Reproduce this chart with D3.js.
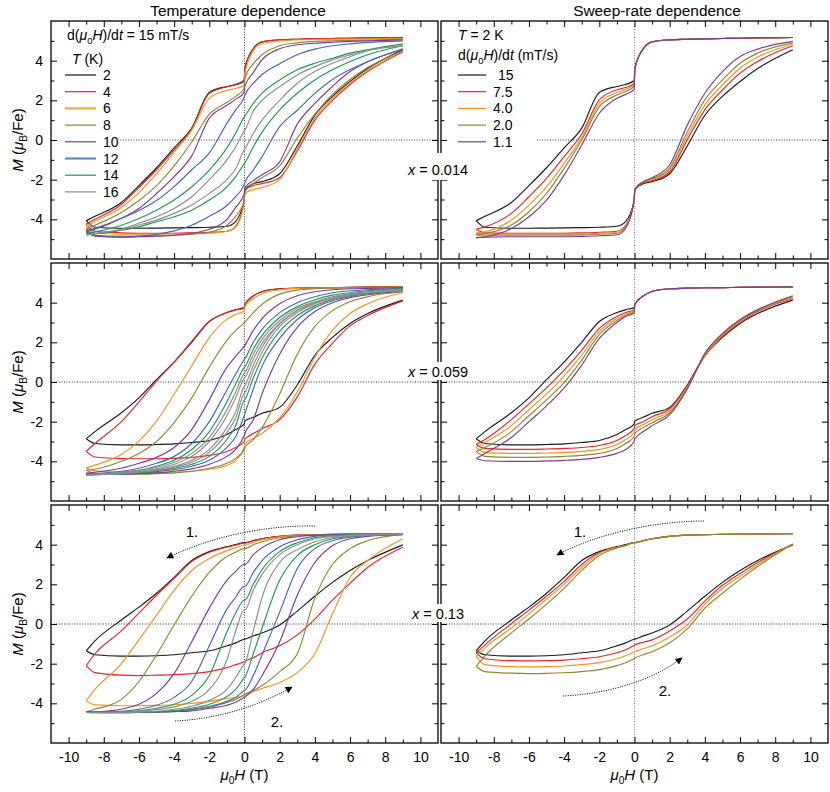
<!DOCTYPE html>
<html lang="en">
<head>
<meta charset="UTF-8">
<title>Hysteresis loops</title>
<script src="https://d3js.org/d3.v7.min.js"></script>
<style>
  body { margin: 0; background: #fff; }
  svg { display: block; font-family: "Liberation Sans", Arial, Helvetica, sans-serif; }
</style>
</head>
<body>
<svg id="chart" width="830" height="792"></svg>
<script>
// field values (T) at which every branch is sampled; -0.02/+0.02 carry the step at zero field
const hGrid = [-9, -8.5, -7, -6, -5, -4, -3, -2, -1, -0.5, -0.02, 0.02, 0.5, 1, 2, 3, 4, 5, 6, 7, 9];

const xTicks = [-10, -8, -6, -4, -2, 0, 2, 4, 6, 8, 10];
const xMinor = [-9, -7, -5, -3, -1, 1, 3, 5, 7, 9];
const yTicks = [-4, -2, 0, 2, 4];
const yMinor = [-5, -3, -1, 1, 3, 5];

const tempLabels = ["2", "4", "6", "8", "10", "12", "14", "16"];
const rateLabels = ["15", "7.5", "4.0", "2.0", "1.1"];
const tempColors = ["#1a1a1a", "#e8252b", "#f7931e", "#8a8a34", "#7e3a94", "#4565b6", "#1f9a4c", "#8c8c8c"];
const rateColors = tempColors.slice(0, 5);
const compLabels = ["0.014", "0.059", "0.13"];

// x = 0.014, temperature series (descending / ascending branch)
const dnT014 = [
  [-4.07,-3.85,-3.15,-2.3,-1.4,-0.4,0.6,2.4,2.7,2.8,3.0,3.6,4.6,4.95,5.05,5.08,5.1,5.12,5.13,5.15,5.17],
  [-4.24,-4.0,-3.25,-2.4,-1.5,-0.5,0.55,2.35,2.68,2.78,2.95,3.6,4.6,4.95,5.05,5.08,5.1,5.12,5.13,5.15,5.17],
  [-4.35,-4.1,-3.4,-2.65,-1.7,-0.6,0.5,2.1,2.5,2.6,2.75,3.3,4.5,4.85,5.0,5.05,5.07,5.08,5.09,5.1,5.12],
  [-4.5,-4.3,-3.65,-3.05,-2.3,-1.3,-0.1,1.3,1.9,2.2,2.6,3.1,3.85,4.3,4.75,4.9,4.97,5.0,5.02,5.04,5.08],
  [-4.63,-4.5,-3.95,-3.45,-2.7,-1.85,-0.8,1.1,1.75,2.05,2.4,2.7,3.4,4.05,4.6,4.8,4.88,4.93,4.97,5.0,5.05],
  [-4.55,-4.45,-3.95,-3.55,-3.05,-2.35,-1.5,-0.65,0.84,1.52,2.15,2.25,2.85,3.3,3.85,4.3,4.58,4.75,4.85,4.92,5.0],
  [-4.71,-4.63,-4.3,-3.96,-3.54,-3.03,-2.36,-1.52,-0.4,0.34,1.15,1.2,1.85,2.36,3.03,3.54,3.87,4.12,4.38,4.55,4.85],
  [-4.8,-4.71,-4.5,-4.2,-3.87,-3.45,-2.86,-2.0,-1.0,-0.34,0.45,0.5,1.45,2.0,2.69,3.28,3.7,4.04,4.29,4.51,4.75]
];
const upT014 = [
  [-4.07,-4.4,-4.45,-4.45,-4.44,-4.43,-4.42,-4.4,-4.35,-4.1,-3.05,-2.5,-2.2,-2.1,-1.7,-0.3,1.25,2.2,2.95,3.6,4.55],
  [-4.24,-4.6,-4.68,-4.7,-4.7,-4.7,-4.68,-4.65,-4.6,-4.35,-3.1,-2.55,-2.3,-2.2,-1.9,-0.55,1.0,2.0,2.8,3.45,4.45],
  [-4.35,-4.7,-4.75,-4.75,-4.75,-4.74,-4.72,-4.7,-4.6,-4.4,-3.2,-2.7,-2.5,-2.4,-2.0,-0.45,1.1,2.1,2.9,3.5,4.5],
  [-4.5,-4.8,-4.85,-4.85,-4.83,-4.8,-4.75,-4.65,-4.3,-3.85,-3.1,-2.6,-2.2,-1.9,-1.3,0.1,1.3,2.3,3.05,3.65,4.5],
  [-4.63,-4.85,-4.9,-4.88,-4.85,-4.8,-4.7,-4.5,-4.0,-3.4,-2.7,-2.4,-2.05,-1.75,-1.1,0.8,1.85,2.7,3.45,3.95,4.55],
  [-4.55,-4.8,-4.9,-4.85,-4.75,-4.58,-4.3,-3.85,-3.3,-2.85,-2.25,-2.15,-1.52,-0.84,0.67,1.5,2.35,3.05,3.55,3.95,4.6],
  [-4.71,-4.72,-4.55,-4.38,-4.12,-3.87,-3.54,-3.03,-2.36,-1.85,-1.2,-1.15,-0.34,0.4,1.52,2.36,3.03,3.54,3.96,4.3,4.75],
  [-4.8,-4.72,-4.51,-4.29,-4.04,-3.7,-3.28,-2.69,-2.0,-1.45,-0.5,-0.45,0.34,1.0,2.0,2.86,3.45,3.87,4.2,4.5,4.75]
];

// x = 0.014, sweep-rate series (15 mT/s is the same run as 2 K above)
const dnR014 = [
  dnT014[0],
  [-4.5,-4.38,-3.7,-2.86,-1.94,-0.84,0.3,2.02,2.53,2.65,2.85,3.6,4.6,4.95,5.05,5.08,5.1,5.12,5.13,5.15,5.17],
  [-4.68,-4.63,-4.04,-3.28,-2.36,-1.18,0.12,1.85,2.39,2.55,2.78,3.6,4.6,4.95,5.05,5.08,5.1,5.12,5.13,5.15,5.17],
  [-4.78,-4.71,-4.29,-3.62,-2.69,-1.43,0.0,1.68,2.27,2.45,2.7,3.6,4.6,4.95,5.05,5.08,5.1,5.12,5.13,5.15,5.17],
  [-4.92,-4.88,-4.46,-3.87,-3.03,-1.77,-0.25,1.35,2.1,2.3,2.55,3.6,4.6,4.95,5.05,5.08,5.1,5.12,5.13,5.15,5.17]
];
const upR014 = [
  upT014[0],
  [-4.5,-4.68,-4.7,-4.7,-4.7,-4.7,-4.68,-4.65,-4.6,-4.3,-3.05,-2.5,-2.15,-2.05,-1.6,0.02,1.52,2.52,3.37,3.96,4.75],
  [-4.68,-4.74,-4.75,-4.75,-4.75,-4.75,-4.73,-4.7,-4.65,-4.35,-3.05,-2.5,-2.13,-2.0,-1.5,0.2,1.77,2.78,3.62,4.18,4.83],
  [-4.78,-4.8,-4.8,-4.8,-4.8,-4.8,-4.78,-4.75,-4.7,-4.4,-3.05,-2.5,-2.1,-1.95,-1.4,0.4,2.02,3.03,3.87,4.38,4.9],
  [-4.92,-4.9,-4.88,-4.88,-4.88,-4.88,-4.86,-4.83,-4.78,-4.45,-3.05,-2.5,-2.1,-1.9,-1.25,0.75,2.36,3.45,4.21,4.58,4.97]
];

// x = 0.059, temperature series (nine loops, colours repeat for the last one)
const dnT059 = [
  [-2.86,-2.5,-1.55,-0.8,0.12,1.0,2.0,3.05,3.5,3.65,3.75,3.92,4.34,4.56,4.7,4.73,4.75,4.76,4.77,4.78,4.8],
  [-3.5,-3.1,-2.0,-1.0,0.05,1.0,2.05,3.05,3.5,3.63,3.72,3.9,4.33,4.55,4.7,4.73,4.75,4.76,4.77,4.78,4.8],
  [-4.33,-4.19,-3.65,-2.98,-1.97,-0.62,0.81,2.24,3.17,3.4,3.58,3.8,4.2,4.45,4.65,4.72,4.74,4.75,4.76,4.77,4.78],
  [-4.45,-4.4,-4.0,-3.6,-3.0,-2.05,-0.8,0.75,2.1,2.6,2.98,3.02,3.5,3.92,4.43,4.63,4.7,4.73,4.75,4.76,4.77],
  [-4.6,-4.55,-4.35,-4.1,-3.8,-3.3,-2.4,-0.9,0.75,1.3,1.8,1.85,2.6,3.2,3.95,4.35,4.55,4.65,4.7,4.72,4.75],
  [-4.65,-4.62,-4.5,-4.35,-4.1,-3.75,-3.1,-2.0,-0.4,0.4,1.12,1.17,2.0,2.65,3.5,4.0,4.3,4.5,4.6,4.65,4.72],
  [-4.68,-4.65,-4.55,-4.45,-4.25,-3.95,-3.4,-2.5,-1.0,-0.1,0.72,0.76,1.65,2.35,3.25,3.8,4.15,4.38,4.5,4.6,4.7],
  [-4.68,-4.65,-4.55,-4.45,-4.3,-4.05,-3.6,-2.8,-1.4,-0.5,0.43,0.47,1.4,2.15,3.1,3.7,4.05,4.3,4.45,4.55,4.68],
  [-4.7,-4.66,-4.58,-4.5,-4.38,-4.15,-3.75,-3.0,-1.7,-0.8,0.18,0.22,1.15,1.95,2.95,3.6,4.0,4.25,4.42,4.52,4.66]
];
const upT059 = [
  [-2.86,-3.1,-3.17,-3.17,-3.15,-3.12,-3.05,-2.95,-2.65,-2.4,-2.12,-1.97,-1.78,-1.58,-1.28,-0.15,1.35,2.25,2.95,3.45,4.13],
  [-3.5,-3.78,-3.86,-3.87,-3.87,-3.85,-3.8,-3.7,-3.5,-3.3,-3.0,-2.9,-2.6,-2.35,-1.9,-0.75,0.9,1.95,2.83,3.35,4.09],
  [-4.33,-4.48,-4.55,-4.57,-4.57,-4.55,-4.5,-4.4,-4.2,-3.95,-3.3,-3.12,-2.85,-2.6,-1.8,-0.5,1.25,2.6,3.45,3.95,4.5],
  [-4.45,-4.6,-4.65,-4.65,-4.62,-4.58,-4.5,-4.35,-4.1,-3.85,-3.4,-3.3,-2.9,-2.3,-0.6,1.4,2.8,3.6,4.05,4.3,4.55],
  [-4.6,-4.65,-4.65,-4.62,-4.58,-4.5,-4.38,-4.15,-3.75,-3.4,-2.7,-2.6,-1.9,-0.6,1.4,2.75,3.55,4.0,4.25,4.4,4.58],
  [-4.65,-4.66,-4.64,-4.6,-4.52,-4.42,-4.25,-3.95,-3.3,-2.75,-1.7,-1.6,-0.35,0.8,2.2,3.15,3.75,4.1,4.3,4.45,4.6],
  [-4.68,-4.67,-4.63,-4.57,-4.48,-4.35,-4.15,-3.75,-2.9,-2.2,-0.92,-0.88,0.2,1.2,2.55,3.35,3.85,4.15,4.35,4.47,4.6],
  [-4.68,-4.67,-4.62,-4.55,-4.45,-4.3,-4.05,-3.55,-2.55,-1.8,-0.57,-0.53,0.55,1.5,2.8,3.5,3.95,4.2,4.38,4.48,4.6],
  [-4.7,-4.68,-4.6,-4.52,-4.42,-4.25,-3.95,-3.4,-2.3,-1.5,-0.22,-0.18,0.85,1.75,2.95,3.6,4.0,4.25,4.4,4.5,4.6]
];

// x = 0.059, sweep-rate series
const dnR059 = [
  dnT059[0],
  [-3.15,-2.9,-1.9,-1.1,-0.3,0.6,1.6,2.7,3.3,3.5,3.65,3.92,4.34,4.56,4.7,4.73,4.75,4.76,4.77,4.78,4.8],
  [-3.3,-3.05,-2.2,-1.4,-0.6,0.3,1.35,2.55,3.2,3.42,3.6,3.92,4.34,4.56,4.7,4.73,4.75,4.76,4.77,4.78,4.8],
  [-3.5,-3.3,-2.5,-1.7,-0.9,-0.03,1.1,2.4,3.1,3.35,3.55,3.92,4.34,4.56,4.7,4.73,4.75,4.76,4.77,4.78,4.8],
  [-3.86,-3.6,-2.8,-2.0,-1.2,-0.3,0.85,2.2,3.0,3.3,3.48,3.92,4.34,4.56,4.7,4.73,4.75,4.76,4.77,4.78,4.8]
];
const upR059 = [
  upT059[0],
  [-3.15,-3.35,-3.4,-3.4,-3.38,-3.35,-3.3,-3.2,-2.95,-2.7,-2.35,-2.2,-2.0,-1.75,-1.35,-0.2,1.3,2.3,3.0,3.55,4.2],
  [-3.3,-3.55,-3.6,-3.6,-3.58,-3.55,-3.5,-3.4,-3.15,-2.9,-2.55,-2.4,-2.15,-1.9,-1.45,-0.25,1.35,2.35,3.05,3.6,4.25],
  [-3.5,-3.75,-3.8,-3.8,-3.78,-3.75,-3.7,-3.6,-3.35,-3.1,-2.75,-2.6,-2.3,-2.05,-1.55,-0.3,1.4,2.4,3.1,3.62,4.3],
  [-3.86,-3.97,-4.0,-4.0,-3.98,-3.95,-3.9,-3.8,-3.6,-3.4,-3.0,-2.85,-2.5,-2.2,-1.65,-0.35,1.45,2.45,3.15,3.65,4.35]
];

// x = 0.13, temperature series
const dnT13 = [
  [-1.35,-0.85,0.2,0.85,1.55,2.35,3.2,3.65,3.9,4.0,4.1,4.1,4.2,4.3,4.42,4.48,4.5,4.52,4.53,4.54,4.55],
  [-2.1,-1.5,-0.35,0.55,1.45,2.3,3.15,3.62,3.88,3.98,4.08,4.08,4.2,4.3,4.42,4.48,4.5,4.52,4.53,4.54,4.55],
  [-3.87,-3.3,-2.0,-0.8,0.45,1.7,2.7,3.3,3.7,3.85,3.97,3.97,4.12,4.25,4.4,4.47,4.5,4.52,4.53,4.54,4.55],
  [-4.43,-4.3,-3.8,-2.9,-1.55,-0.05,1.4,2.6,3.4,3.62,3.8,3.8,4.0,4.15,4.35,4.45,4.49,4.51,4.53,4.54,4.55],
  [-4.45,-4.43,-4.3,-4.05,-3.5,-2.5,-0.9,0.8,2.2,2.65,3.0,3.0,3.5,3.85,4.25,4.4,4.48,4.5,4.52,4.54,4.55],
  [-4.45,-4.44,-4.4,-4.3,-4.1,-3.7,-2.9,-1.1,0.75,1.35,1.9,1.9,2.6,3.2,3.9,4.25,4.42,4.5,4.52,4.54,4.55],
  [-4.46,-4.45,-4.43,-4.38,-4.25,-4.05,-3.6,-2.6,-0.4,0.55,1.2,1.2,2.0,2.75,3.65,4.1,4.35,4.45,4.5,4.53,4.55],
  [-4.46,-4.46,-4.44,-4.4,-4.32,-4.18,-3.9,-3.3,-1.8,-0.35,0.7,0.7,1.7,2.5,3.5,4.0,4.3,4.42,4.48,4.52,4.55]
];
const upT13 = [
  [-1.35,-1.55,-1.62,-1.62,-1.6,-1.55,-1.45,-1.35,-1.1,-0.95,-0.77,-0.76,-0.6,-0.45,-0.05,0.65,1.4,2.1,2.7,3.2,3.99],
  [-2.1,-2.45,-2.58,-2.6,-2.58,-2.55,-2.5,-2.4,-2.2,-2.05,-1.9,-1.88,-1.7,-1.45,-1.1,-0.55,0.25,1.2,2.05,2.85,3.87],
  [-3.87,-4.08,-4.12,-4.12,-4.1,-4.07,-4.0,-3.9,-3.75,-3.7,-3.62,-3.6,-3.4,-3.25,-2.95,-2.45,-1.5,0.5,2.36,3.2,4.3],
  [-4.43,-4.46,-4.47,-4.46,-4.44,-4.4,-4.33,-4.2,-3.95,-3.8,-3.56,-3.54,-3.35,-3.1,-2.4,-1.5,1.3,3.0,3.8,4.2,4.52],
  [-4.45,-4.46,-4.47,-4.46,-4.44,-4.42,-4.38,-4.25,-4.1,-3.95,-3.7,-3.68,-3.3,-2.6,-0.9,1.45,3.1,3.95,4.3,4.42,4.5],
  [-4.45,-4.46,-4.46,-4.45,-4.43,-4.4,-4.3,-4.15,-3.9,-3.7,-3.36,-3.34,-2.6,-1.55,0.6,2.8,3.8,4.2,4.38,4.45,4.52],
  [-4.46,-4.47,-4.46,-4.45,-4.42,-4.36,-4.25,-4.05,-3.65,-3.3,-2.72,-2.68,-1.5,-0.2,2.2,3.45,4.0,4.3,4.42,4.48,4.52],
  [-4.46,-4.47,-4.46,-4.44,-4.4,-4.3,-4.15,-3.85,-3.3,-2.7,-2.02,-1.98,-0.35,1.35,3.1,3.75,4.15,4.35,4.42,4.48,4.52]
];

// x = 0.13, sweep-rate series (four rates shown)
const dnR13 = [
  dnT13[0],
  [-1.46,-1.05,0.02,0.7,1.4,2.15,3.0,3.6,3.88,3.98,4.1,4.1,4.2,4.3,4.42,4.48,4.5,4.52,4.53,4.54,4.55],
  [-1.63,-1.2,-0.2,0.5,1.25,2.0,2.85,3.55,3.86,3.96,4.1,4.1,4.2,4.3,4.42,4.48,4.5,4.52,4.53,4.54,4.55],
  [-2.14,-1.6,-0.45,0.25,1.0,1.8,2.7,3.45,3.83,3.95,4.1,4.1,4.2,4.3,4.42,4.48,4.5,4.52,4.53,4.54,4.55]
];
const upR13 = [
  upT13[0],
  [-1.46,-1.75,-1.85,-1.86,-1.85,-1.82,-1.75,-1.65,-1.45,-1.3,-1.07,-1.05,-0.92,-0.8,-0.35,0.25,1.15,1.95,2.55,3.1,4.02],
  [-1.63,-2.05,-2.15,-2.16,-2.15,-2.12,-2.05,-1.95,-1.75,-1.6,-1.41,-1.39,-1.25,-1.1,-0.65,-0.05,1.0,1.8,2.4,3.0,4.03],
  [-2.14,-2.4,-2.48,-2.5,-2.49,-2.46,-2.4,-2.3,-2.1,-1.95,-1.74,-1.72,-1.55,-1.4,-0.95,-0.25,0.8,1.55,2.25,2.9,4.03]
];

// ---------------- layout ----------------
const svg = d3.select("#chart");
const colX = [51, 441], rowY = [21, 263, 505];
const panelW = 387, panelH = 238;
const FS = 14;

const nineColors = tempColors.concat([tempColors[7]]);
const panels = [
  { col: 0, row: 0, dn: dnT014, up: upT014, colors: tempColors, zeroFrom: -7.06 },
  { col: 1, row: 0, dn: dnR014, up: upR014, colors: rateColors, zeroFrom: -5.55 },
  { col: 0, row: 1, dn: dnT059, up: upT059, colors: nineColors, zeroFrom: -11 },
  { col: 1, row: 1, dn: dnR059, up: upR059, colors: rateColors, zeroFrom: -11 },
  { col: 0, row: 2, dn: dnT13, up: upT13, colors: tempColors, zeroFrom: -11 },
  { col: 1, row: 2, dn: dnR13, up: upR13, colors: rateColors, zeroFrom: -11 }
];

// text with italic / subscript pieces
function rich(sel, parts, fs) {
  let shifted = false;
  parts.forEach(([t, s]) => {
    const ts = sel.append("tspan").text(t);
    if (s.includes("i")) ts.attr("font-style", "italic");
    if (s.includes("sub")) {
      ts.attr("font-size", fs * 0.68).attr("dy", fs * 0.28);
      shifted = true;
    } else if (shifted) {
      ts.attr("dy", -fs * 0.28);
      shifted = false;
    }
  });
  return sel;
}

function styleAxis(a, showText) {
  a.attr("font-family", null).attr("font-size", FS);
  a.select(".domain").remove();
  a.selectAll(".tick line").attr("stroke", "#000").attr("stroke-width", 1);
  a.selectAll(".tick text").attr("fill", "#000");
  if (!showText) a.selectAll(".tick text").remove();
}

panels.forEach(p => {
  const x0 = colX[p.col], y0 = rowY[p.row];
  const x = d3.scaleLinear().domain([-11, 11]).range([x0, x0 + panelW]);
  const y = d3.scaleLinear().domain([-6, 6]).range([y0 + panelH, y0]);
  const g = svg.append("g");

  // dotted reference lines
  g.append("line")
    .attr("x1", x(p.zeroFrom)).attr("x2", x(11))
    .attr("y1", y(0)).attr("y2", y(0))
    .attr("stroke", "#222").attr("stroke-width", 0.9).attr("stroke-dasharray", "1,1.6");
  g.append("line")
    .attr("x1", x(0)).attr("x2", x(0))
    .attr("y1", y(-6)).attr("y2", y(6))
    .attr("stroke", p.col === 0 ? "#222" : "#777").attr("stroke-width", 0.9).attr("stroke-dasharray", "1,1.6");

  const line = d3.line()
    .x((d, i) => x(hGrid[i]))
    .y(d => y(d))
    .curve(d3.curveMonotoneX);

  p.dn.forEach((m, i) => {
    [m, p.up[i]].forEach(branch => {
      g.append("path")
        .attr("d", line(branch))
        .attr("fill", "none")
        .attr("stroke", p.colors[i])
        .attr("stroke-width", 1.15);
    });
  });

  // axes with inward ticks
  const bottom = g.append("g").attr("transform", `translate(0,${y0 + panelH})`)
    .call(d3.axisBottom(x).tickValues(xTicks).tickSize(-6).tickPadding(9).tickFormat(d => String(d)));
  styleAxis(bottom, p.row === 2);
  styleAxis(g.append("g").attr("transform", `translate(0,${y0 + panelH})`)
    .call(d3.axisBottom(x).tickValues(xMinor).tickSize(-3.5)), false);
  styleAxis(g.append("g").attr("transform", `translate(0,${y0})`)
    .call(d3.axisTop(x).tickValues(xTicks).tickSize(-6)), false);
  styleAxis(g.append("g").attr("transform", `translate(0,${y0})`)
    .call(d3.axisTop(x).tickValues(xMinor).tickSize(-3.5)), false);

  const left = g.append("g").attr("transform", `translate(${x0},0)`)
    .call(d3.axisLeft(y).tickValues(yTicks).tickSize(-6).tickPadding(8).tickFormat(d => String(d)));
  styleAxis(left, p.col === 0);
  styleAxis(g.append("g").attr("transform", `translate(${x0},0)`)
    .call(d3.axisLeft(y).tickValues(yMinor).tickSize(-3.5)), false);
  styleAxis(g.append("g").attr("transform", `translate(${x0 + panelW},0)`)
    .call(d3.axisRight(y).tickValues(yTicks).tickSize(-6)), false);
  styleAxis(g.append("g").attr("transform", `translate(${x0 + panelW},0)`)
    .call(d3.axisRight(y).tickValues(yMinor).tickSize(-3.5)), false);

  g.append("rect")
    .attr("x", x0).attr("y", y0).attr("width", panelW).attr("height", panelH)
    .attr("fill", "none").attr("stroke", "#000").attr("stroke-width", 1.3);

  // axis titles
  if (p.col === 0) {
    rich(svg.append("text")
      .attr("transform", `translate(23,${y0 + panelH / 2}) rotate(-90)`)
      .attr("text-anchor", "middle").attr("font-size", 15),
      [["M", "i"], [" (", ""], ["\u03bc", "i"], ["B", "sub"], ["/Fe)", ""]], 15);
  }
  if (p.row === 2) {
    rich(svg.append("text")
      .attr("x", x(0)).attr("y", 780)
      .attr("text-anchor", "middle").attr("font-size", 15),
      [["\u03bc", "i"], ["0", "sub"], ["H", "i"], [" (T)", ""]], 15);
  }
});

// column titles
svg.append("text").attr("x", 238).attr("y", 16).attr("text-anchor", "middle")
  .attr("font-size", 15.4).text("Temperature dependence");
svg.append("text").attr("x", 657).attr("y", 16).attr("text-anchor", "middle")
  .attr("font-size", 15.4).text("Sweep-rate dependence");

// composition labels between the columns
const compBoxes = [[153, 180, 175], [362, 380, 377], [604, 622, 619]];
compLabels.forEach((lab, i) => {
  const [b0, b1, base] = compBoxes[i];
  svg.append("rect").attr("x", 404).attr("y", b0).attr("width", 70).attr("height", b1 - b0).attr("fill", "#fff");
  rich(svg.append("text").attr("x", 438).attr("y", base).attr("text-anchor", "middle").attr("font-size", 14.5),
    [["x", "i"], [" = " + lab, ""]], 14.5);
});

// legend, temperature panel
rich(svg.append("text").attr("x", 67).attr("y", 40).attr("font-size", FS),
  [["d(", ""], ["\u03bc", "i"], ["0", "sub"], ["H", "i"], [")/d", ""], ["t", "i"], ["  = 15 mT/s", ""]], FS);
rich(svg.append("text").attr("x", 72).attr("y", 64).attr("font-size", FS),
  [["T", "i"], [" (K)", ""]], FS);
tempLabels.forEach((lab, i) => {
  const ly = 75 + i * 16.7;
  const wide = i === 2 || i === 5;
  svg.append("line").attr("x1", 65).attr("x2", 96).attr("y1", ly).attr("y2", ly)
    .attr("stroke", tempColors[i]).attr("stroke-width", wide ? 2.2 : 1.2)
    .attr("stroke-opacity", wide ? 0.8 : 1);
  svg.append("text").attr("x", 103).attr("y", ly + 5).attr("font-size", FS).text(lab);
});

// legend, sweep-rate panel
rich(svg.append("text").attr("x", 458).attr("y", 40).attr("font-size", FS),
  [["T", "i"], [" = 2 K", ""]], FS);
rich(svg.append("text").attr("x", 458).attr("y", 60).attr("font-size", FS),
  [["d(", ""], ["\u03bc", "i"], ["0", "sub"], ["H", "i"], [")/d", ""], ["t", "i"], [" (mT/s)", ""]], FS);
rateLabels.forEach((lab, i) => {
  const ly = 75 + i * 16.7;
  svg.append("line").attr("x1", 458).attr("x2", 486).attr("y1", ly).attr("y2", ly)
    .attr("stroke", rateColors[i]).attr("stroke-width", 1.2);
  svg.append("text").attr("x", i === 0 ? 498 : 493).attr("y", ly + 5).attr("font-size", FS).text(lab);
});

// sweep direction arrows in the bottom row
svg.append("defs").append("marker")
  .attr("id", "arrowhead").attr("viewBox", "0 0 10 10")
  .attr("refX", 9).attr("refY", 5)
  .attr("markerWidth", 10).attr("markerHeight", 7)
  .attr("markerUnits", "userSpaceOnUse").attr("orient", "auto")
  .append("path").attr("d", "M0,0L10,5L0,10z").attr("fill", "#000");

const arrows = [
  { d: "M315,526 C280,525 220,532 167,558", lab: "1.", lx: 192, ly: 537 },
  { d: "M175,721 C215,719 255,708 292,687", lab: "2.", lx: 277, ly: 727 },
  { d: "M704,521 C660,521 600,532 557,555", lab: "1.", lx: 580, ly: 537 },
  { d: "M563,696 C605,694 650,682 682,658", lab: "2.", lx: 665, ly: 696 }
];
arrows.forEach(a => {
  svg.append("path").attr("d", a.d).attr("fill", "none")
    .attr("stroke", "#222").attr("stroke-width", 1).attr("stroke-dasharray", "1.2,1.2")
    .attr("marker-end", "url(#arrowhead)");
  svg.append("text").attr("x", a.lx).attr("y", a.ly).attr("text-anchor", "middle")
    .attr("font-size", 15).text(a.lab);
});
</script>
</body>
</html>
